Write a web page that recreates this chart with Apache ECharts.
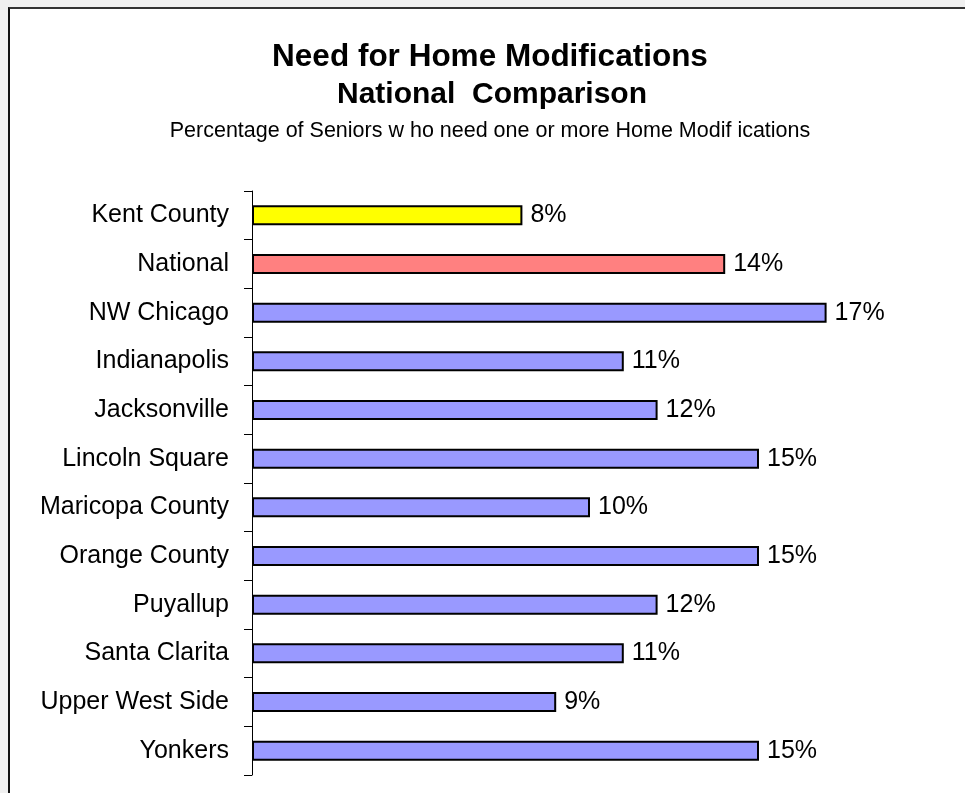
<!DOCTYPE html>
<html>
<head>
<meta charset="utf-8">
<title>Need for Home Modifications</title>
<script src="https://cdn.jsdelivr.net/npm/echarts@6/dist/echarts.min.js"></script>
<style>
  html, body { margin: 0; padding: 0; background: #f0f0f0; overflow: hidden; }
  #frame {
    position: absolute; left: 8px; top: 7px; width: 980px; height: 820px;
    background: #fff; border-top: 2px solid #333; border-left: 2px solid #111;
  }
  #chart { position: absolute; left: 0; top: 0; width: 965px; height: 793px; }
</style>
</head>
<body>
<div id="frame"></div>
<div id="chart"></div>
<script>
// values (percent of seniors)
var categories = [
  "Kent County", "National", "NW Chicago", "Indianapolis", "Jacksonville",
  "Lincoln Square", "Maricopa County", "Orange County", "Puyallup",
  "Santa Clarita", "Upper West Side", "Yonkers"
];
var percentages = [8, 14, 17, 11, 12, 15, 10, 15, 12, 11, 9, 15];

var titleText = "Need for Home Modifications";
var titleText2 = "National  Comparison";
var subtitleText = "Percentage of Seniors w ho need one or more Home Modif ications";

var font = "'Liberation Sans', Arial, sans-serif";

function barColor(idx) {
  if (idx === 0) return "#FFFF00";
  if (idx === 1) return "#FF8080";
  return "#9999FF";
}

var chart = echarts.init(document.getElementById("chart"), null, { renderer: "canvas" });

var option = {
  animation: false,
  graphic: [
    {
      type: "text", x: 490, y: 57,
      style: { text: titleText, fontSize: 31.5, fontWeight: "bold", fontFamily: font,
        fill: "#000", align: "center", verticalAlign: "middle" }
    },
    {
      type: "text", x: 492, y: 95,
      style: { text: titleText2, fontSize: 30, fontWeight: "bold", fontFamily: font,
        fill: "#000", align: "center", verticalAlign: "middle" }
    },
    {
      type: "text", x: 490, y: 131,
      style: { text: subtitleText, fontSize: 21.5, fontFamily: font,
        fill: "#000", align: "center", verticalAlign: "middle" }
    }
  ],
  grid: {
    left: 252,
    top: 191,
    width: 676,
    height: 584,
    containLabel: false
  },
  xAxis: {
    type: "value",
    min: 0,
    max: 20,
    show: false
  },
  yAxis: {
    type: "category",
    inverse: true,
    data: categories,
    axisLine: { show: true, lineStyle: { color: "#000", width: 1 } },
    axisTick: { show: true, length: 8, lineStyle: { color: "#000", width: 1 } },
    axisLabel: {
      margin: 23,
      fontSize: 25,
      fontFamily: font,
      color: "#000"
    },
    splitLine: { show: false }
  },
  series: [
    {
      type: "bar",
      data: percentages,
      barWidth: 20,
      itemStyle: {
        color: function (p) { return barColor(p.dataIndex); },
        borderColor: "#000",
        borderWidth: 2
      },
      label: {
        show: true,
        position: "right",
        distance: 8,
        formatter: "{c}%",
        fontSize: 25,
        fontFamily: font,
        color: "#000"
      }
    }
  ]
};

chart.setOption(option);
</script>
</body>
</html>
